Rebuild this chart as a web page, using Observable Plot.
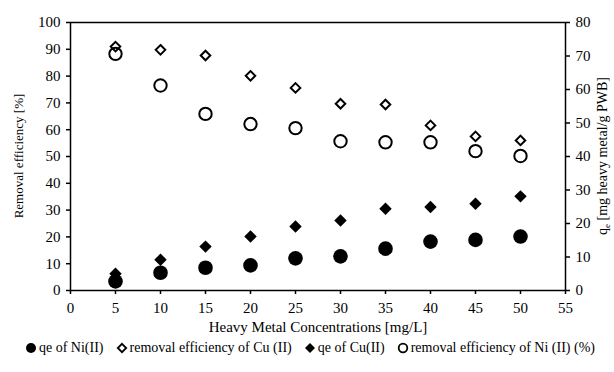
<!DOCTYPE html>
<html><head><meta charset="utf-8">
<script src="https://cdn.jsdelivr.net/npm/d3@7"></script>
<script src="https://cdn.jsdelivr.net/npm/@observablehq/plot@0.6"></script>
<style>
body{margin:0;background:#fff;font-family:"Liberation Serif","Times New Roman","DejaVu Serif",serif;}
#legend{display:flex;justify-content:center;gap:12px;font-size:14px;color:#000;margin-top:5px;margin-left:6px;align-items:center;}
#legend span{display:inline-flex;align-items:center;gap:2px;}
svg text{font-family:"Liberation Serif","Times New Roman","DejaVu Serif",serif !important;}
</style></head>
<body><div id="chart"></div><div id="legend"></div>
<script>
const concentrations = [5,10,15,20,25,30,35,40,45,50];
const removalCu = [91,89.8,87.7,80.1,75.6,69.7,69.4,61.6,57.5,56];
const removalNi = [88.3,76.5,65.9,62.1,60.6,55.7,55.3,55.3,52,50.2];
const qeCu = [5.0,9.2,13.1,16.1,19.1,20.9,24.4,24.9,25.9,28.1];
const qeNi = [2.7,5.3,6.8,7.5,9.6,10.2,12.5,14.6,15.1,16.1];
const xTicks = [0,5,10,15,20,25,30,35,40,45,50,55];
const leftTicks = [0,10,20,30,40,50,60,70,80,90,100];
const rightTicks = [0,10,20,30,40,50,60,70,80];
const k = 100/80;

const rows = (vals, scale=1) => concentrations.map((c,i)=>({x:c, y:vals[i]*scale}));

const plot = Plot.plot({
  width:614, height:335,
  marginLeft:70, marginRight:49, marginTop:22, marginBottom:45,
  style:{fontFamily:'"Liberation Serif", "Times New Roman", "DejaVu Serif", serif', fontSize:"15px", color:"#000", background:"#fff"},
  x:{domain:[0,55]},
  y:{domain:[0,100]},
  marks:[
    Plot.frame({stroke:"#000", strokeWidth:1.5}),
    Plot.axisX({ticks:xTicks, tickSize:4, tickPadding:8, tickFormat:d=>d, label:"Heavy Metal Concentrations [mg/L]", labelAnchor:"center", labelArrow:false, labelOffset:41, strokeWidth:1.5, fontSize:15}),
    Plot.axisY({ticks:leftTicks, tickSize:4, tickPadding:6, tickFormat:d=>d, label:null, strokeWidth:1.5, fontSize:15}),
    Plot.axisY({anchor:"right", ticks:rightTicks.map(v=>v*k), tickSize:4, tickPadding:6, tickFormat:d=>Math.round(d/k), label:null, strokeWidth:1.5, fontSize:15}),
    Plot.dot(rows(removalNi), {x:"x", y:"y", r:6.2, stroke:"#000", strokeWidth:2, fill:"none"}),
    Plot.dot(rows(removalCu), {x:"x", y:"y", symbol:"diamond2", r:4.3, stroke:"#000", strokeWidth:2, fill:"none"}),
    Plot.dot(rows(qeCu,k), {x:"x", y:"y", symbol:"diamond2", r:5.6, fill:"#000", stroke:"none"}),
    Plot.dot(rows(qeNi,k), {x:"x", y:"y", r:7.3, fill:"#000", stroke:"none"})
  ]
});
document.getElementById("chart").appendChild(plot);

// axis titles
const svg = d3.select(plot);
svg.append("text").attr("transform","translate(23,156) rotate(-90)").attr("text-anchor","middle")
  .attr("font-size",13).attr("fill","#000").text("Removal efficiency [%]");
const rt = svg.append("text").attr("transform","translate(607,156) rotate(-90)").attr("text-anchor","middle")
  .attr("font-size",14).attr("fill","#000");
rt.append("tspan").text("q");
rt.append("tspan").attr("font-size",9).attr("dy",3).text("e");
rt.append("tspan").attr("dy",-3).text(" [mg heavy metal/g PWB]");

// legend
const legendLabels = ["qe of Ni(II)","removal efficiency of Cu (II)","qe of Cu(II)","removal efficiency of Ni (II) (%)"];
const legendSymbols = [
  '<circle cx="6" cy="6" r="5" fill="#000"/>',
  '<path d="M6 1.8 L10.2 6 L6 10.2 L1.8 6Z" fill="none" stroke="#000" stroke-width="1.8"/>',
  '<path d="M6 1 L11 6 L6 11 L1 6Z" fill="#000"/>',
  '<circle cx="6" cy="6" r="4.3" fill="none" stroke="#000" stroke-width="1.8"/>'
];
const lg = document.getElementById("legend");
legendLabels.forEach((t,i)=>{
  const s = document.createElement("span");
  s.innerHTML = `<svg width="12" height="12">${legendSymbols[i]}</svg>${t}`;
  lg.appendChild(s);
});
</script></body></html>
